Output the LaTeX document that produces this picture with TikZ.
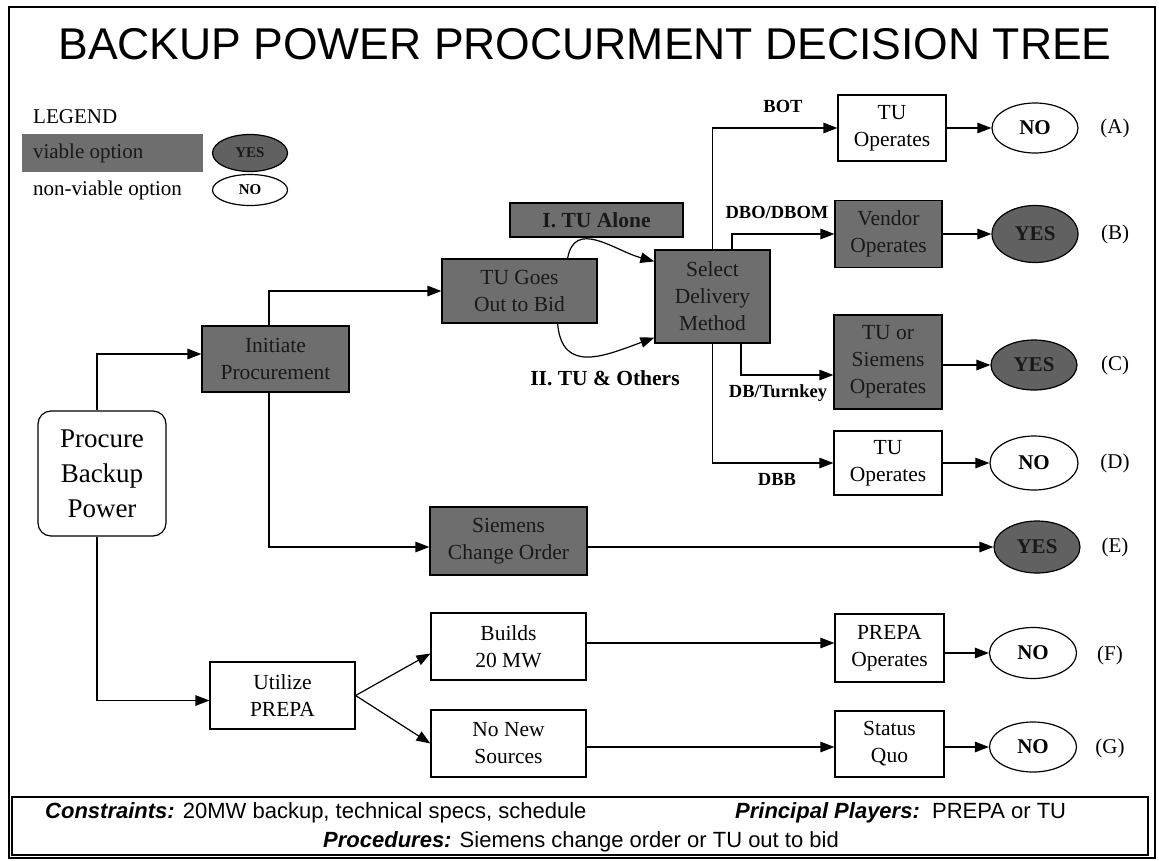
\documentclass[tikz,border=0pt]{standalone}
\usepackage{fontspec}
\setmainfont{Liberation Serif}
\setsansfont{Liberation Sans}
\usetikzlibrary{arrows.meta,shapes.geometric,calc}
\definecolor{gfill}{gray}{0.43}
\definecolor{gyes}{gray}{0.38}
\begin{document}
\begin{tikzpicture}[x=1pt,y=1pt,
  boxw/.style={draw=black, line width=1.2pt, align=center, inner sep=0pt,
    font=\fontsize{21.5}{27}\selectfont},
  boxg/.style={boxw, fill=gfill, text=black!90},
  oval/.style={ellipse, draw=black, line width=1.2pt, inner sep=0pt,
    font=\bfseries\fontsize{21}{24}\selectfont},
  ovalg/.style={oval, fill=gyes, text=black!90},
  arr/.style={line width=1.2pt, -{Triangle[length=14pt,width=10.5pt]}},
  lbl/.style={font=\bfseries\fontsize{18.5}{22}\selectfont},
  bigl/.style={font=\bfseries\fontsize{21.5}{24}\selectfont},
  letter/.style={font=\fontsize{21}{24}\selectfont},
  legtxt/.style={font=\fontsize{21}{24}\selectfont, anchor=west, inner sep=0pt}
]
\useasboundingbox (0,0) rectangle (1159,-860);
\fill[white] (0,0) rectangle (1159,-860);
% outer frame
\draw[line width=1.2pt] (9,-7) rectangle (1155,-858);
% title
\node[anchor=base, inner sep=0pt, font=\sffamily\fontsize{44.5}{48}\selectfont] (title) at (585,-59) {BACKUP POWER PROCURMENT DECISION TREE};

% legend
\node[legtxt] (leg) at (33,-117) {LEGEND};
\node[fill=gfill, minimum width=181pt, minimum height=38pt, inner sep=0pt] (viab) at (112.5,-153) {};
\node[legtxt, text=black!90] (viabt) at ([xshift=11pt]viab.west) {viable option};
\node[legtxt] (nonv) at (33,-190) {non-viable option};
\node[ovalg, minimum width=75pt, minimum height=37pt, font=\bfseries\fontsize{15}{18}\selectfont] (lyes) at (250,-153) {YES};
\node[oval, minimum width=75pt, minimum height=31pt, font=\bfseries\fontsize{15}{18}\selectfont] (lno) at (250,-190) {NO};

% main nodes
\node[draw=black, line width=1.2pt, rounded corners=13pt, align=center, inner sep=0pt,
  minimum width=128pt, minimum height=125pt, font=\fontsize{27}{35}\selectfont] (proc) at (102,-473.5) {Procure\\Backup\\Power};
\node[boxg, minimum width=147pt, minimum height=66pt] (init) at (275.5,-359) {Initiate\\Procurement};
\node[boxg, minimum width=155pt, minimum height=64pt] (tugoes) at (519.5,-291) {TU Goes\\Out to Bid};
\node[boxg, minimum width=173pt, minimum height=34pt, font=\bfseries\fontsize{21.5}{24}\selectfont] (alone) at (596.5,-220) {I. TU Alone};
\node[boxg, minimum width=115pt, minimum height=93pt] (sel) at (712.5,-296.5) {Select\\Delivery\\Method};

\node[boxw, minimum width=108pt, minimum height=66pt] (tuA) at (892,-128) {TU\\Operates};
\node[oval, minimum width=86pt, minimum height=50pt] (noA) at (1035,-128) {NO};
\node[boxg, minimum width=107pt, minimum height=67pt] (vend) at (888.5,-234) {Vendor\\Operates};
\node[ovalg, minimum width=86pt, minimum height=57pt] (yesB) at (1035,-234) {YES};
\node[boxg, minimum width=108pt, minimum height=94pt] (tusi) at (888,-362) {TU or\\Siemens\\Operates};
\node[ovalg, minimum width=86pt, minimum height=50pt] (yesC) at (1034,-365) {YES};
\node[boxw, minimum width=108pt, minimum height=64pt] (tuD) at (888,-463) {TU\\Operates};
\node[oval, minimum width=88pt, minimum height=54pt] (noD) at (1034,-463) {NO};

\node[boxg, minimum width=157pt, minimum height=68pt] (siem) at (508.5,-541) {Siemens\\Change Order};
\node[ovalg, minimum width=86pt, minimum height=52pt] (yesE) at (1037,-547) {YES};

\node[boxw, minimum width=145pt, minimum height=67pt] (util) at (282.5,-695.5) {Utilize\\PREPA};
\node[boxw, minimum width=155pt, minimum height=67pt] (builds) at (508.5,-646.5) {Builds\\20 MW};
\node[boxw, minimum width=155pt, minimum height=67pt] (nonew) at (508.5,-743.5) {No New\\Sources};
\node[boxw, minimum width=109pt, minimum height=68pt] (prepa) at (889.5,-648) {PREPA\\Operates};
\node[oval, minimum width=87pt, minimum height=51pt] (noF) at (1033,-653) {NO};
\node[boxw, minimum width=109pt, minimum height=66pt] (status) at (889.5,-744) {Status\\Quo};
\node[oval, minimum width=87pt, minimum height=50pt] (noG) at (1033,-747) {NO};

% letters
\node[letter] (lA) at (1115,-128) {(A)};
\node[letter] (lB) at (1115,-234) {(B)};
\node[letter] (lC) at (1115,-365) {(C)};
\node[letter] (lD) at (1115,-463) {(D)};
\node[letter] (lE) at (1115,-547) {(E)};
\node[letter] (lF) at (1110,-655) {(F)};
\node[letter] (lG) at (1110,-748) {(G)};

% edge labels
\node[lbl] (bot) at (783,-106) {BOT};
\node[lbl] (dbo) at (777,-212) {DBO/DBOM};
\node[lbl] (dbt) at (778,-393) {DB/Turnkey};
\node[lbl] (dbb) at (777,-479) {DBB};
\node[bigl] (others) at (605,-378) {II. TU \& Others};

% connectors
\draw[arr] ([xshift=-5pt]proc.north) |- ([yshift=5pt]init.west);
\draw[arr] ([xshift=-5pt]proc.south) |- ([yshift=-5pt]util.west);
\draw[arr] ([xshift=-6.5pt]init.north) |- (tugoes.west);
\draw[arr] ([xshift=-6.5pt]init.south) |- ([yshift=-6pt]siem.west);
\draw[arr] ([yshift=-6pt]siem.east) -- (yesE.west);

\draw[arr] ([xshift=-30pt]tugoes.north east) to[out=80,in=165,looseness=1.2] ([yshift=-12pt]sel.north west);
\draw[arr] ([xshift=-40pt]tugoes.south east) to[out=-85,in=-160,looseness=1.35] ([yshift=6pt]sel.south west);

\draw[arr] (sel.north) |- (tuA.west);
\draw[arr] (tuA.east) -- (noA.west);
\draw[arr] ([xshift=19.5pt]sel.north) |- (vend.west);
\draw[arr] (vend.east) -- (yesB.west);
\draw[arr] ([xshift=28.5pt]sel.south) |- ([yshift=-13pt]tusi.west);
\draw[arr] ([yshift=-3pt]tusi.east) -- (yesC.west);
\draw[arr] (sel.south) |- (tuD.west);
\draw[arr] (tuD.east) -- (noD.west);

\draw[arr] (util.east) -- ([yshift=-7pt]builds.west);
\draw[arr] (util.east) -- (nonew.west);
\draw[arr] ([yshift=3.5pt]builds.east) -- ([yshift=5pt]prepa.west);
\draw[arr] ([yshift=-5pt]prepa.east) -- (noF.west);
\draw[arr] ([yshift=-3.5pt]nonew.east) -- ([yshift=-3pt]status.west);
\draw[arr] ([yshift=-3pt]status.east) -- (noG.west);

% bottom info box
\node[draw=black, line width=1.2pt, minimum width=1136pt, minimum height=58pt, inner sep=0pt] (info) at (580,-826) {};
\node[anchor=base west, inner sep=0pt, font=\sffamily\fontsize{22}{26}\selectfont] (cons) at (45,-818)
  {\textbf{\textit{Constraints:}} 20MW backup, technical specs, schedule};
\node[anchor=base west, inner sep=0pt, font=\sffamily\fontsize{22}{26}\selectfont] (play) at (735,-818)
  {\textbf{\textit{Principal Players:}}\ \ PREPA or TU};
\node[anchor=base, inner sep=0pt, font=\sffamily\fontsize{22}{26}\selectfont] (proced) at (581,-847)
  {\textbf{\textit{Procedures:}} Siemens change order or TU out to bid};
\end{tikzpicture}
\end{document}
